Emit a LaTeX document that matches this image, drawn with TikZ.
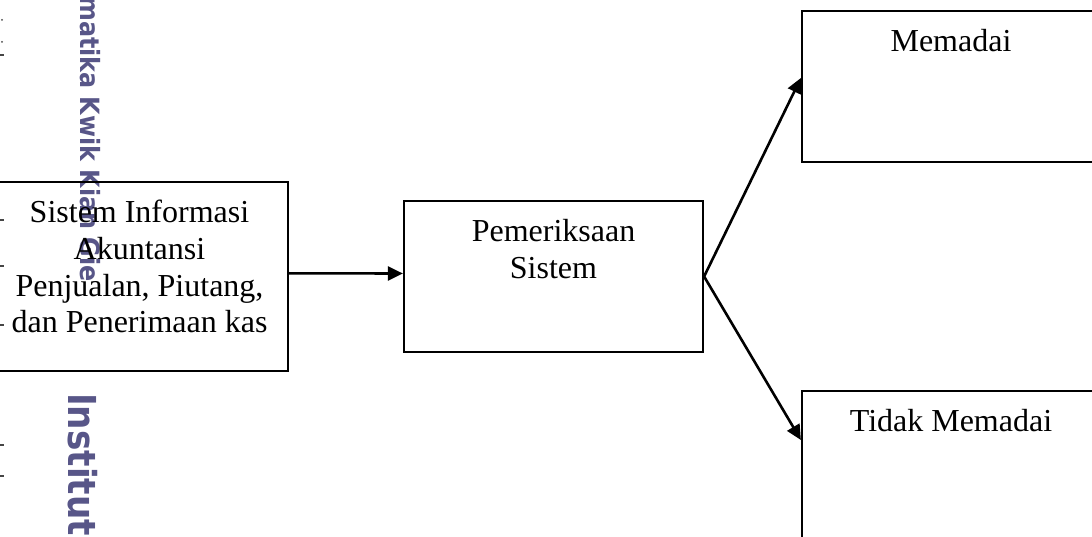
\documentclass[tikz,border=0pt]{standalone}
\usepackage{fontspec}
\setmainfont{Liberation Serif}
\newfontfamily\wmfont{DejaVu Sans}
\usetikzlibrary{arrows.meta}
\definecolor{wmcol}{RGB}{88,86,136}
\definecolor{markcol}{RGB}{70,70,70}
\tikzset{
  box/.style={draw=black, line width=2.2pt, rectangle, inner sep=0pt},
  lbl/.style={inner sep=0pt, anchor=north, align=center, font=\fontsize{32}{36.8}\selectfont},
  conn/.style={line width=2.6pt, -{Triangle[length=15pt,width=14pt]}},
  wmark/.style={inner sep=0pt, text=wmcol, rotate=-90},
  tick/.style={draw=markcol, line width=1.5pt}
}
\begin{document}
\begin{tikzpicture}[x=1pt,y=-1pt]
\useasboundingbox (0,0) rectangle (1092,537);
% watermark
\node[wmark, anchor=base east] (wm1) at (80,282) {\wmfont\bfseries\fontsize{26.5}{26.5}\selectfont\scalebox{0.9}[1]{matika Kwik Kian Gie}};
\node[wmark, anchor=base west] (wm2) at (68,393) {\wmfont\bfseries\fontsize{38.5}{38.5}\selectfont\scalebox{0.89}[1]{Institut}};
% edge marks
\fill[markcol] (2,20) circle (1pt);
\fill[markcol] (2,42) circle (1pt);
\draw[tick] (0,55) -- (4,55);
\draw[tick] (0,220) -- (4,220);
\draw[tick] (0,266) -- (4,266);
\draw[tick] (0,325) -- (4,325);
\draw[tick] (0,445) -- (4,445);
\draw[tick] (0,476) -- (4,476);
% boxes
\node[box, minimum width=297pt, minimum height=189pt] (b1) at (139.5,276.3) {};
\node[box, minimum width=299pt, minimum height=151pt] (b2) at (553.5,276.5) {};
\node[box, minimum width=298pt, minimum height=151pt] (b3) at (951,86.5) {};
\node[box, minimum width=298pt, minimum height=154pt] (b4) at (951,468) {};
% labels
\node[lbl] (t1) at ([yshift=-19pt]b1.north) {Sistem Informasi\\Akuntansi\\Penjualan, Piutang,\\dan Penerimaan kas};
\node[lbl] (t2) at ([yshift=-19pt]b2.north) {Pemeriksaan\\Sistem};
\node[lbl] (t3) at ([yshift=-19pt]b3.north) {Memadai};
\node[lbl] (t4) at ([yshift=-19pt]b4.north) {Tidak Memadai};
% connectors
\coordinate (e3) at ([yshift=8.5pt]b3.west);
\coordinate (e4) at ([yshift=28pt]b4.west);
\draw[conn] ([yshift=3pt]b1.east) -- ([yshift=3pt]b2.west);
\draw[conn] (b2.east) -- (e3);
\draw[conn] (b2.east) -- (e4);
\end{tikzpicture}
\end{document}
